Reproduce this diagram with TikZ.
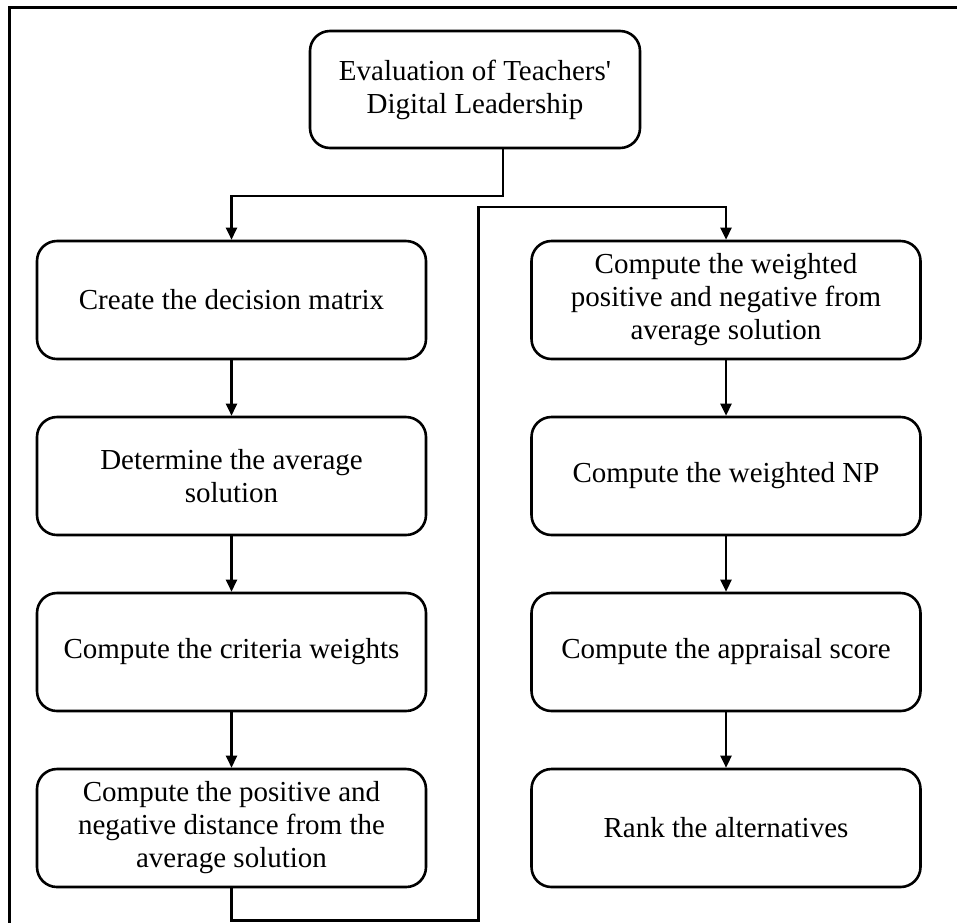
\documentclass[tikz,border=0pt]{standalone}
\usepackage{fontspec}
\setmainfont{Liberation Serif}
\usetikzlibrary{arrows.meta}
\tikzset{
  stepbox/.style={draw=black, line width=2.6pt, rounded corners=20pt, align=center,
    minimum width=389pt, minimum height=118pt, inner sep=0pt,
    font=\fontsize{29}{33}\selectfont},
  topbox/.style={stepbox, minimum width=330pt, minimum height=117pt},
  arr/.style={line width=2.4pt, -{Triangle[length=12pt,width=11pt]}},
  frameline/.style={line width=3pt}
}
\begin{document}
\begin{tikzpicture}[x=1pt,y=-1pt]
\useasboundingbox[fill=white] (0,0) rectangle (957,922);
\draw[frameline] (9,940) -- (9,7) -- (970,7);
\node[topbox] (top) at (475,89.5) {Evaluation of Teachers\textquotesingle\\Digital Leadership};
\node[stepbox] (L1) at (231.5,300) {Create the decision matrix};
\node[stepbox] (L2) at (231.5,476) {Determine the average\\solution};
\node[stepbox] (L3) at (231.5,652) {Compute the criteria weights};
\node[stepbox] (L4) at (231.5,828) {Compute the positive and\\negative distance from the\\average solution};
\node[stepbox] (R1) at (726,300) {Compute the weighted\\positive and negative from\\average solution};
\node[stepbox] (R2) at (726,476) {Compute the weighted NP};
\node[stepbox] (R3) at (726,652) {Compute the appraisal score};
\node[stepbox] (R4) at (726,828) {Rank the alternatives};
\draw[arr] ([xshift=28pt]top.south) -- ++(0,46.5) -| (L1.north);
\draw[arr] (L1) -- (L2);
\draw[arr] (L2) -- (L3);
\draw[arr] (L3) -- (L4);
\draw[arr] (L4.south) -- ++(0,32) -| (478.5,207) -| (R1.north);
\draw[arr] (R1) -- (R2);
\draw[arr] (R2) -- (R3);
\draw[arr] (R3) -- (R4);
\end{tikzpicture}
\end{document}
